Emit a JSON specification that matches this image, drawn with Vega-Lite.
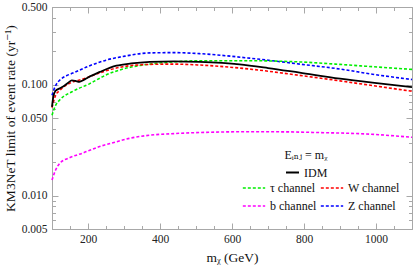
{
  "$schema": "https://vega.github.io/schema/vega-lite/v6.json",
  "width": 360,
  "height": 222,
  "autosize": {"type": "none"},
  "padding": {"left": 52, "top": 7, "right": 3, "bottom": 39},
  "background": "white",
  "config": {
    "font": "'Liberation Serif', 'DejaVu Serif', serif",
    "view": {"stroke": "#a8a8a8", "strokeWidth": 1},
    "axis": {
      "grid": false,
      "domainColor": "#a8a8a8",
      "tickColor": "#a8a8a8",
      "labelFont": "'Liberation Serif', 'DejaVu Serif', serif",
      "labelFontSize": 11.5,
      "labelColor": "#222",
      "titleFont": "'Liberation Serif', 'DejaVu Serif', serif",
      "titleFontSize": 13.5,
      "titleFontWeight": "normal",
      "titleColor": "#111",
      "labelOverlap": false,
      "labelFlush": false
    },
    "legend": {
      "labelFont": "'Liberation Serif', 'DejaVu Serif', serif",
      "titleFont": "'Liberation Serif', 'DejaVu Serif', serif",
      "labelColor": "#111",
      "titleColor": "#111"
    }
  },
  "data": {
    "values": [
      {"m": 100, "rate": 0.080, "series": "Z channel"},
      {"m": 110, "rate": 0.098, "series": "Z channel"},
      {"m": 122, "rate": 0.110, "series": "Z channel"},
      {"m": 140, "rate": 0.120, "series": "Z channel"},
      {"m": 158, "rate": 0.127, "series": "Z channel"},
      {"m": 205, "rate": 0.148, "series": "Z channel"},
      {"m": 250, "rate": 0.166, "series": "Z channel"},
      {"m": 297, "rate": 0.179, "series": "Z channel"},
      {"m": 372, "rate": 0.193, "series": "Z channel"},
      {"m": 440, "rate": 0.194, "series": "Z channel"},
      {"m": 510, "rate": 0.190, "series": "Z channel"},
      {"m": 649, "rate": 0.173, "series": "Z channel"},
      {"m": 788, "rate": 0.153, "series": "Z channel"},
      {"m": 900, "rate": 0.138, "series": "Z channel"},
      {"m": 990, "rate": 0.124, "series": "Z channel"},
      {"m": 1100, "rate": 0.111, "series": "Z channel"},

      {"m": 100, "rate": 0.053, "series": "τ channel"},
      {"m": 110, "rate": 0.065, "series": "τ channel"},
      {"m": 122, "rate": 0.073, "series": "τ channel"},
      {"m": 158, "rate": 0.087, "series": "τ channel"},
      {"m": 205, "rate": 0.102, "series": "τ channel"},
      {"m": 250, "rate": 0.122, "series": "τ channel"},
      {"m": 297, "rate": 0.138, "series": "τ channel"},
      {"m": 372, "rate": 0.153, "series": "τ channel"},
      {"m": 440, "rate": 0.160, "series": "τ channel"},
      {"m": 510, "rate": 0.164, "series": "τ channel"},
      {"m": 649, "rate": 0.164, "series": "τ channel"},
      {"m": 788, "rate": 0.160, "series": "τ channel"},
      {"m": 900, "rate": 0.152, "series": "τ channel"},
      {"m": 990, "rate": 0.145, "series": "τ channel"},
      {"m": 1100, "rate": 0.137, "series": "τ channel"},

      {"m": 100, "rate": 0.062, "series": "W channel"},
      {"m": 110, "rate": 0.080, "series": "W channel"},
      {"m": 122, "rate": 0.089, "series": "W channel"},
      {"m": 140, "rate": 0.099, "series": "W channel"},
      {"m": 158, "rate": 0.106, "series": "W channel"},
      {"m": 186, "rate": 0.112, "series": "W channel"},
      {"m": 205, "rate": 0.118, "series": "W channel"},
      {"m": 250, "rate": 0.133, "series": "W channel"},
      {"m": 297, "rate": 0.145, "series": "W channel"},
      {"m": 372, "rate": 0.152, "series": "W channel"},
      {"m": 436, "rate": 0.153, "series": "W channel"},
      {"m": 510, "rate": 0.150, "series": "W channel"},
      {"m": 649, "rate": 0.138, "series": "W channel"},
      {"m": 788, "rate": 0.121, "series": "W channel"},
      {"m": 900, "rate": 0.108, "series": "W channel"},
      {"m": 990, "rate": 0.098, "series": "W channel"},
      {"m": 1100, "rate": 0.087, "series": "W channel"},

      {"m": 100, "rate": 0.0138, "series": "b channel"},
      {"m": 110, "rate": 0.0170, "series": "b channel"},
      {"m": 122, "rate": 0.0196, "series": "b channel"},
      {"m": 150, "rate": 0.0220, "series": "b channel"},
      {"m": 186, "rate": 0.0242, "series": "b channel"},
      {"m": 230, "rate": 0.0275, "series": "b channel"},
      {"m": 280, "rate": 0.0306, "series": "b channel"},
      {"m": 320, "rate": 0.0330, "series": "b channel"},
      {"m": 372, "rate": 0.0350, "series": "b channel"},
      {"m": 440, "rate": 0.0362, "series": "b channel"},
      {"m": 510, "rate": 0.0370, "series": "b channel"},
      {"m": 649, "rate": 0.0376, "series": "b channel"},
      {"m": 750, "rate": 0.0375, "series": "b channel"},
      {"m": 835, "rate": 0.0370, "series": "b channel"},
      {"m": 974, "rate": 0.0359, "series": "b channel"},
      {"m": 1100, "rate": 0.0335, "series": "b channel"},

      {"m": 100, "rate": 0.063, "series": "IDM"},
      {"m": 104, "rate": 0.079, "series": "IDM"},
      {"m": 110, "rate": 0.088, "series": "IDM"},
      {"m": 120, "rate": 0.092, "series": "IDM"},
      {"m": 131, "rate": 0.096, "series": "IDM"},
      {"m": 145, "rate": 0.104, "series": "IDM"},
      {"m": 155, "rate": 0.109, "series": "IDM"},
      {"m": 165, "rate": 0.108, "series": "IDM"},
      {"m": 176, "rate": 0.106, "series": "IDM"},
      {"m": 188, "rate": 0.110, "series": "IDM"},
      {"m": 200, "rate": 0.116, "series": "IDM"},
      {"m": 233, "rate": 0.130, "series": "IDM"},
      {"m": 279, "rate": 0.148, "series": "IDM"},
      {"m": 320, "rate": 0.155, "series": "IDM"},
      {"m": 372, "rate": 0.160, "series": "IDM"},
      {"m": 440, "rate": 0.162, "series": "IDM"},
      {"m": 510, "rate": 0.160, "series": "IDM"},
      {"m": 621, "rate": 0.152, "series": "IDM"},
      {"m": 700, "rate": 0.141, "series": "IDM"},
      {"m": 788, "rate": 0.128, "series": "IDM"},
      {"m": 900, "rate": 0.113, "series": "IDM"},
      {"m": 990, "rate": 0.104, "series": "IDM"},
      {"m": 1100, "rate": 0.095, "series": "IDM"}
    ]
  },
  "layer": [
    {
      "transform": [{"filter": "datum.series !== 'IDM'"}],
      "mark": {"type": "line", "strokeDash": [3, 2], "strokeWidth": 1.6, "interpolate": "monotone"},
      "encoding": {
        "x": {
          "field": "m", "type": "quantitative",
          "scale": {"domain": [100, 1100], "nice": false, "zero": false},
          "axis": {
            "title": "mᵪ (GeV)",
            "values": [100, 150, 200, 250, 300, 350, 400, 450, 500, 550, 600, 650, 700, 750, 800, 850, 900, 950, 1000, 1050, 1100],
            "format": "d",
            "labelExpr": "datum.value % 200 === 0 ? datum.label : ''",
            "tickSize": {"condition": {"test": "datum.value % 200 === 0", "value": -6}, "value": -3.5},
            "labelPadding": 10,
            "titlePadding": 3
          }
        },
        "y": {
          "field": "rate", "type": "quantitative",
          "scale": {"type": "log", "domain": [0.005, 0.5], "nice": false},
          "axis": {
            "title": "KM3NeT limit of event rate (yr⁻¹)",
            "values": [0.005, 0.006, 0.007, 0.008, 0.009, 0.01, 0.02, 0.03, 0.04, 0.05, 0.06, 0.07, 0.08, 0.09, 0.1, 0.2, 0.3, 0.4, 0.5],
            "format": ".3f",
            "labelExpr": "indexof(['0.005','0.010','0.050','0.100','0.500'], datum.label) >= 0 ? datum.label : ''",
            "tickSize": {"condition": {"test": "indexof([0.005, 0.01, 0.05, 0.1, 0.5], datum.value) >= 0", "value": -6}, "value": -3.5},
            "labelPadding": 11,
            "titlePadding": 4
          }
        },
        "color": {
          "field": "series", "type": "nominal",
          "scale": {"domain": ["τ channel", "b channel", "W channel", "Z channel"], "range": ["#00ee00", "#ff00ff", "#ff0000", "#0000ff"]},
          "legend": {
            "title": null,
            "orient": "none",
            "legendX": 190,
            "legendY": 169,
            "columns": 2,
            "columnPadding": 0,
            "rowPadding": -11.5,
            "symbolType": "stroke",
            "symbolSize": 500,
            "symbolStrokeWidth": 1.6,
            "symbolDash": [3, 2],
            "labelFontSize": 12,
            "labelOffset": 4
          }
        }
      }
    },
    {
      "transform": [{"filter": "datum.series === 'IDM'"}],
      "mark": {"type": "line", "strokeWidth": 1.8, "interpolate": "monotone", "color": "black"},
      "encoding": {
        "x": {"field": "m", "type": "quantitative", "axis": null},
        "y": {"field": "rate", "type": "quantitative", "axis": null},
        "color": {
          "field": "series", "type": "nominal",
          "scale": {"domain": ["IDM"], "range": ["black"]},
          "legend": {
            "title": "Eᵢₙⱼ = mᵪ",
            "titleFontSize": 12,
            "titleFontWeight": "normal",
            "titleAnchor": "middle",
            "titlePadding": 3,
            "orient": "none",
            "legendX": 232,
            "legendY": 143,
            "symbolType": "stroke",
            "symbolSize": 169,
            "symbolStrokeWidth": 2,
            "labelFontSize": 12,
            "labelOffset": 4
          }
        }
      }
    },
    {
      "mark": {"type": "point", "opacity": 0},
      "encoding": {
        "x": {
          "field": "m", "type": "quantitative",
          "axis": {
            "orient": "top", "title": null, "labels": false,
            "values": [100, 150, 200, 250, 300, 350, 400, 450, 500, 550, 600, 650, 700, 750, 800, 850, 900, 950, 1000, 1050, 1100],
            "tickSize": {"condition": {"test": "datum.value % 200 === 0", "value": -6}, "value": -3.5}
          }
        },
        "y": {
          "field": "rate", "type": "quantitative",
          "axis": {
            "orient": "right", "title": null, "labels": false,
            "values": [0.005, 0.006, 0.007, 0.008, 0.009, 0.01, 0.02, 0.03, 0.04, 0.05, 0.06, 0.07, 0.08, 0.09, 0.1, 0.2, 0.3, 0.4, 0.5],
            "tickSize": {"condition": {"test": "indexof([0.005, 0.01, 0.05, 0.1, 0.5], datum.value) >= 0", "value": -6}, "value": -3.5}
          }
        }
      }
    }
  ],
  "resolve": {"scale": {"color": "independent"}, "axis": {"x": "independent", "y": "independent"}}
}
